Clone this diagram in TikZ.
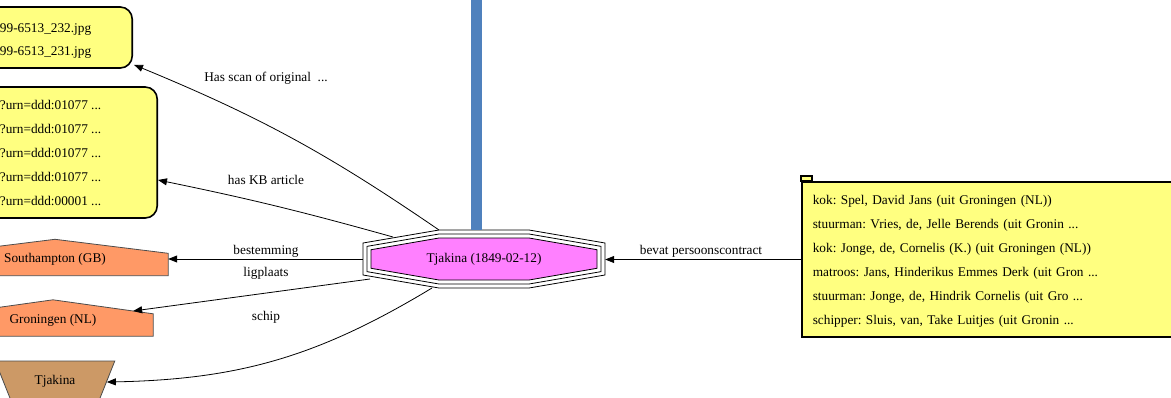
\documentclass[tikz,border=0pt]{standalone}
\usepackage{fontspec}
\setmainfont{Liberation Serif}
\usepackage{tikz}
\usetikzlibrary{positioning,calc,shapes.geometric,arrows.meta,backgrounds}
\definecolor{notebg}{RGB}{255,255,128}
\definecolor{placebg}{RGB}{255,153,102}
\definecolor{shipbg}{RGB}{204,153,102}
\definecolor{eventbg}{RGB}{255,128,255}
\definecolor{barblue}{RGB}{79,129,189}

\begin{document}
\frenchspacing
\begin{tikzpicture}[x=1pt, y=-1pt, every node/.style={font=\fontsize{13.3}{24}\selectfont}]
  \tikzstyle{notebox}=[draw, line width=1.6pt, rounded corners=12pt, fill=notebg, align=left]
  \tikzstyle{tabbox}=[draw, line width=1.6pt, fill=notebg, align=left, text width=400pt, inner xsep=11pt, minimum height=155pt]
  \tikzstyle{placebox}=[inner sep=0pt, minimum height=22pt, text height=6pt, text depth=10pt]
  \tikzstyle{placeline}=[draw=black!70, line width=0.8pt, fill=placebg]
  \tikzstyle{shipbox}=[trapezium, shape border rotate=180, trapezium stretches, trapezium angle=58.5, minimum width=120pt, minimum height=40pt, inner sep=0pt, fill=shipbg, draw=black!70, line width=0.8pt]
  \tikzstyle{eventbox}=[inner sep=0pt, minimum width=242pt, minimum height=58pt]
  \tikzstyle{link}=[draw, line width=0.8pt, -{Triangle[length=9pt,width=7pt]}]
  \tikzstyle{lbl}=[inner sep=1pt]
  \tikzstyle{barline}=[draw=barblue, line width=11pt]
  \useasboundingbox (0,0) rectangle (1171,397);

  % targets on the left
  \node[notebox, anchor=east, inner xsep=41pt, minimum height=61pt, font=\fontsize{13.3}{23}\selectfont] (scan) at (133,37.5) {\rule{0pt}{15pt}99-6513\_232.jpg\\99-6513\_231.jpg};
  \node[notebox, anchor=east, inner xsep=56pt, minimum height=131pt] (kb) at (158,152.5) {?urn=ddd:01077 ...\\?urn=ddd:01077 ...\\?urn=ddd:01077 ...\\?urn=ddd:01077 ...\\?urn=ddd:00001 ...};
  \node[placebox, minimum width=226pt] (dest) at (55,264.5) {Southampton (GB)};
  \node[placebox, minimum width=200pt] (berth) at (53,325) {Groningen (NL)};
  \node[shipbox] (ship) at (55,381) {Tjakina};

  % the event and its crew
  \node[eventbox] (tj) at (484,259) {Tjakina (1849-02-12)};
  \node[tabbox, anchor=west] (crew) at (801,259.5) {\rule{0pt}{13pt}kok: Spel, David Jans (uit Groningen (NL))\\stuurman: Vries, de, Jelle Berends (uit Gronin ...\\kok: Jonge, de, Cornelis (K.) (uit Groningen (NL))\\matroos: Jans, Hinderikus Emmes Derk (uit Gron ...\\stuurman: Jonge, de, Hindrik Cornelis (uit Gro ...\\schipper: Sluis, van, Take Luitjes (uit Gronin ...};
  \filldraw[draw, line width=1.6pt, fill=notebg] (crew.north west) rectangle ++(11,-5);

  \begin{scope}[on background layer]
    \foreach \d/\c in {0/white,4/white,8/eventbg}
      \filldraw[fill=\c, draw=black, line width=0.8pt] ($(tj)+(-45,-29+\d)$) -- ($(tj)+(45,-29+\d)$) -- ($(tj)+(121-\d,-16+0.84*\d)$) -- ($(tj)+(121-\d,16-0.84*\d)$) -- ($(tj)+(45,29-\d)$) -- ($(tj)+(-45,29-\d)$) -- ($(tj)+(-121+\d,16-0.84*\d)$) -- ($(tj)+(-121+\d,-16+0.84*\d)$) -- cycle;
    \path[placeline] (dest.south west) -- (dest.south east) -- (dest.north east) -- ([yshift=14pt]dest.north) -- (dest.north west) -- cycle;
    \path[placeline] (berth.south west) -- (berth.south east) -- (berth.north east) -- ([yshift=14pt]berth.north) -- (berth.north west) -- cycle;
  \end{scope}

  \coordinate (bartop) at (476.5,-2);
  \draw[barline] (bartop) -- (bartop |- tj.north);

  % edges
  \draw[link] ($(tj)+(-45,-29)$) to[bend right=6] ($(scan.south east)+(1,-4)$);
  \draw[link] ($(tj)+(-91,-22)$) to[bend right=2] ($(kb.east)+(0,27.5)$);
  \draw[link] (tj.west) -- (tj.west -| dest.east);
  \draw[link] ($(tj)+(-114,20)$) -- ($([yshift=14pt]berth.north)!0.8!(berth.north east)$);
  \draw[link] ($(tj)+(-52,29)$) to[bend left=15] (ship);
  \draw[link] (crew.west) -- (crew.west -| tj.east);

  \node[lbl] (lscan) at (266,78.5) {Has scan of original~~...};
  \node[lbl] (lkb) at (266,180) {has KB article};
  \node[lbl] (ldest) at (266,251.5) {bestemming};
  \node[lbl] (lberth) at (266,273.5) {ligplaats};
  \node[lbl] (lship) at (266,317.5) {schip};
  \node[lbl] (lcrew) at (701,251) {bevat persoonscontract};
\end{tikzpicture}
\end{document}
